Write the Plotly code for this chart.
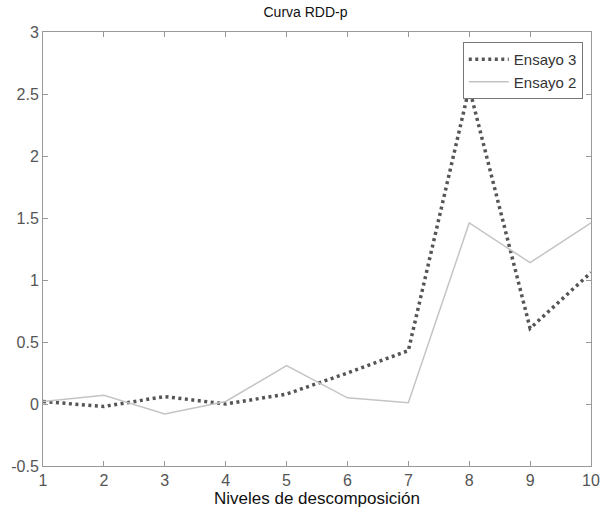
import plotly.graph_objects as go

niveles = [1, 2, 3, 4, 5, 6, 7, 8, 9, 10]
ensayo3 = [0.02, -0.02, 0.06, 0.0, 0.08, 0.25, 0.43, 2.55, 0.61, 1.06]
ensayo2 = [0.02, 0.07, -0.08, 0.02, 0.31, 0.05, 0.01, 1.46, 1.14, 1.46]
xticks = [1, 2, 3, 4, 5, 6, 7, 8, 9, 10]
yticks = [-0.5, 0, 0.5, 1, 1.5, 2, 2.5, 3]
ytick_text = ["-0.5", "0", "0.5", "1", "1.5", "2", "2.5", "3"]

font = "Liberation Sans, Arial, sans-serif"

fig = go.Figure()
fig.add_trace(go.Scatter(x=niveles, y=ensayo3, mode="lines", name="Ensayo 3",
                         line=dict(color="#555555", width=3.5, dash="3px,3.5px")))
fig.add_trace(go.Scatter(x=niveles, y=ensayo2, mode="lines", name="Ensayo 2",
                         line=dict(color="#c4c4c4", width=1.5)))

fig.update_layout(
    width=611, height=516,
    margin=dict(l=43, r=11, t=32, b=50),
    paper_bgcolor="white", plot_bgcolor="white",
    font=dict(family=font, size=14, color="#333333"),
    title=dict(text="Curva RDD-p", x=0.5, xanchor="center", y=0.977, yanchor="middle",
               font=dict(family=font, size=14, color="#111111")),
    showlegend=True,
    legend=dict(x=0.985, y=0.977, xanchor="right", yanchor="top",
                bgcolor="white", bordercolor="#777777", borderwidth=1,
                font=dict(family=font, size=15, color="#333333"),
                tracegroupgap=0, itemwidth=40),
    xaxis=dict(range=[1, 10], tickvals=xticks, ticks="inside", ticklen=5,
               tickcolor="#999999", showgrid=False, zeroline=False,
               showline=True, linecolor="#999999", linewidth=1, mirror="ticks",
               tickfont=dict(size=16, color="#555555"),
               title=dict(text="Niveles de descomposición", standoff=1,
                          font=dict(size=17, color="#111111"))),
    yaxis=dict(range=[-0.5, 3], tickvals=yticks, ticktext=ytick_text, ticks="inside",
               ticklen=5, tickcolor="#999999", showgrid=False, zeroline=False,
               showline=True, linecolor="#999999", linewidth=1, mirror="ticks",
               tickfont=dict(size=16, color="#555555")),
)

fig.write_html("out.html")
